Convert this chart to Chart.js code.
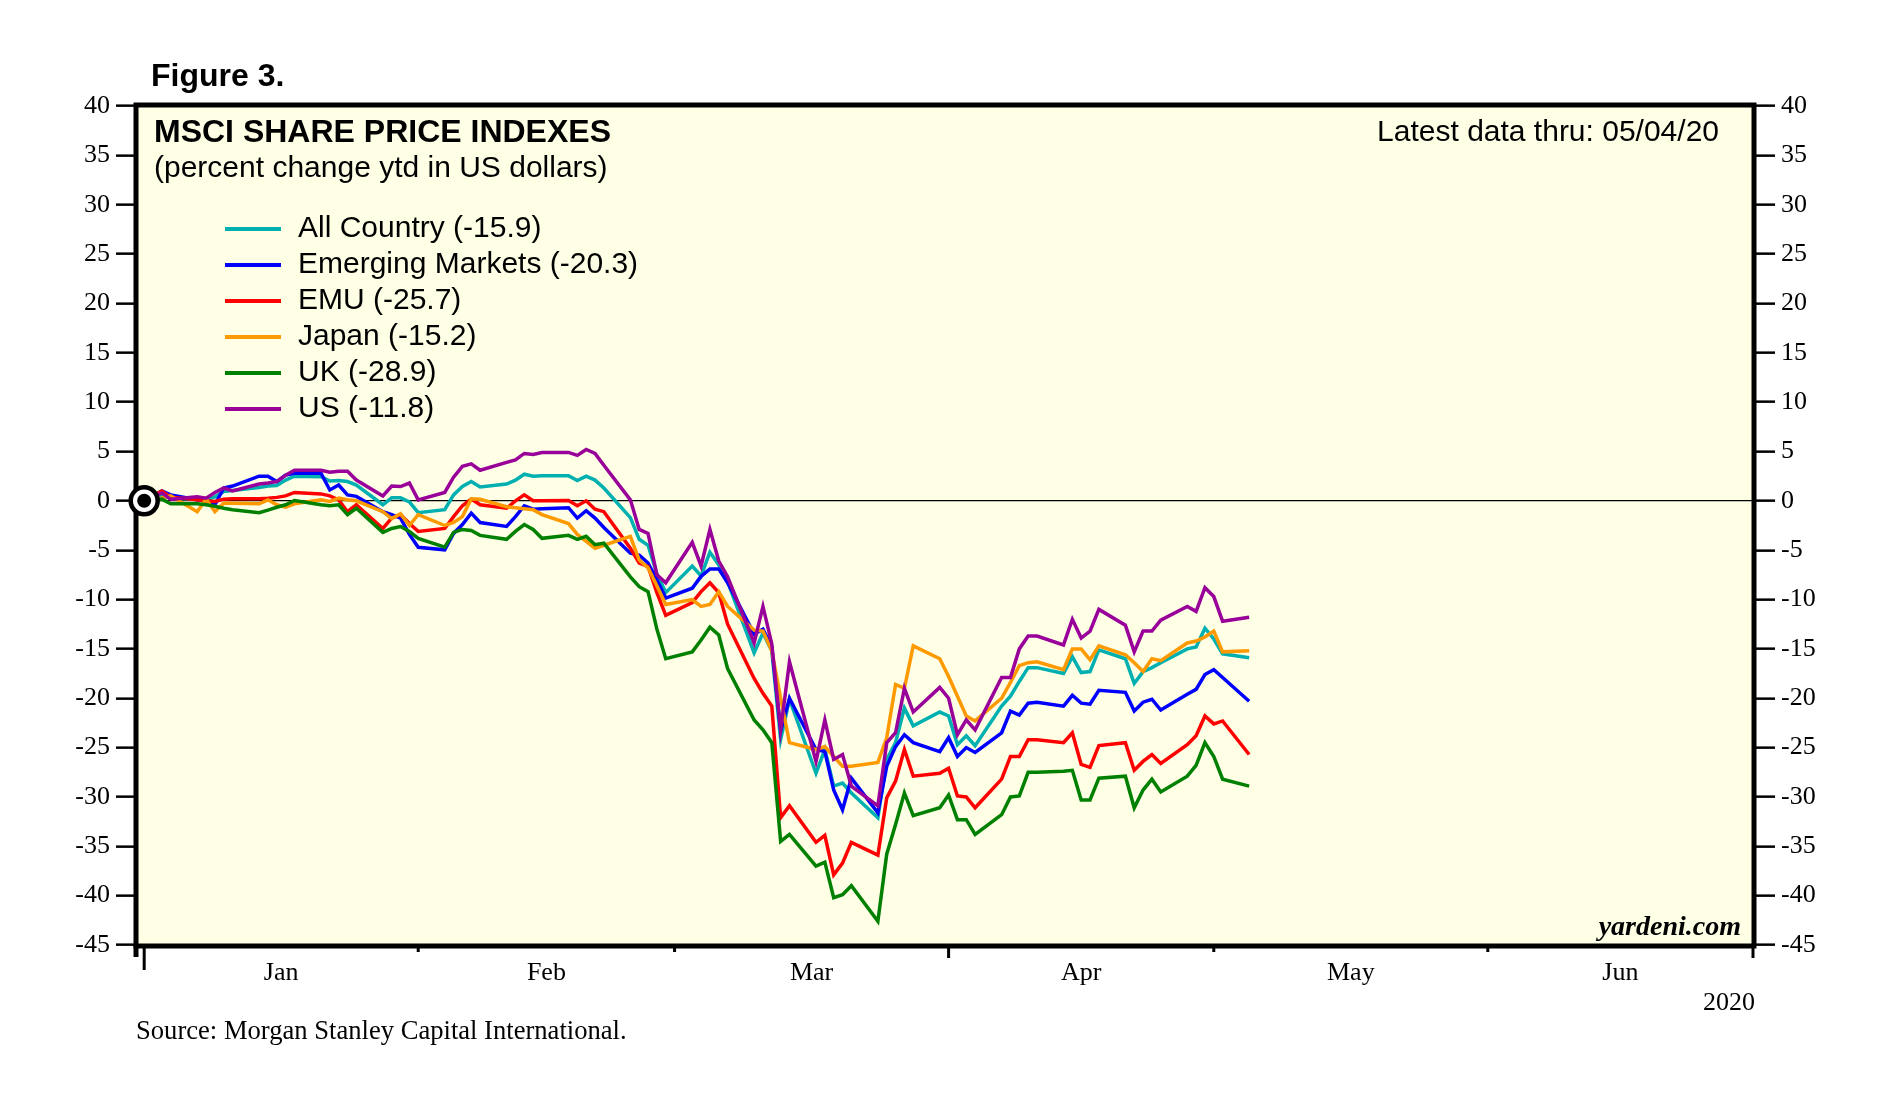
<!DOCTYPE html>
<html>
<head>
<meta charset="utf-8">
<title>MSCI Share Price Indexes</title>
<script src="https://cdn.jsdelivr.net/npm/chart.js@4.4.1/dist/chart.umd.min.js"></script>
<style>
  html, body { margin: 0; padding: 0; background: #fff; }
  canvas { display: block; }
</style>
</head>
<body>
<canvas id="chart" width="1885" height="1099"></canvas>
<script>
// trading days, first entry is the year-end base (0%)
const dates = [
  "2019-12-31",
  "2020-01-02", "2020-01-03",
  "2020-01-06", "2020-01-07", "2020-01-08", "2020-01-09", "2020-01-10",
  "2020-01-13", "2020-01-14", "2020-01-15", "2020-01-16", "2020-01-17",
  "2020-01-20", "2020-01-21", "2020-01-22", "2020-01-23", "2020-01-24",
  "2020-01-27", "2020-01-28", "2020-01-29", "2020-01-30", "2020-01-31",
  "2020-02-03", "2020-02-04", "2020-02-05", "2020-02-06", "2020-02-07",
  "2020-02-10", "2020-02-11", "2020-02-12", "2020-02-13", "2020-02-14",
  "2020-02-17", "2020-02-18", "2020-02-19", "2020-02-20", "2020-02-21",
  "2020-02-24", "2020-02-25", "2020-02-26", "2020-02-27", "2020-02-28",
  "2020-03-02", "2020-03-03", "2020-03-04", "2020-03-05", "2020-03-06",
  "2020-03-09", "2020-03-10", "2020-03-11", "2020-03-12", "2020-03-13",
  "2020-03-16", "2020-03-17", "2020-03-18", "2020-03-19", "2020-03-20",
  "2020-03-23", "2020-03-24", "2020-03-25", "2020-03-26", "2020-03-27",
  "2020-03-30", "2020-03-31",
  "2020-04-01", "2020-04-02", "2020-04-03",
  "2020-04-06", "2020-04-07", "2020-04-08", "2020-04-09", "2020-04-10",
  "2020-04-13", "2020-04-14", "2020-04-15", "2020-04-16", "2020-04-17",
  "2020-04-20", "2020-04-21", "2020-04-22", "2020-04-23", "2020-04-24",
  "2020-04-27", "2020-04-28", "2020-04-29", "2020-04-30",
  "2020-05-01", "2020-05-04",
];

const allCountry = [
  0,
  0.6, 0.25,
  0.15, 0.1, 0.4, 0.95, 1.05,
  1.35, 1.5, 1.55, 2.1, 2.5,
  2.45, 2.0, 2.05, 1.95, 1.6,
  -0.4, 0.3, 0.3, -0.1, -1.2,
  -0.9, 0.6, 1.45, 1.95, 1.4,
  1.7, 2.1, 2.7, 2.5, 2.55,
  2.55, 2.05, 2.5, 2.1, 1.3,
  -1.7, -3.9, -4.5, -7.4, -9.3,
  -6.6, -7.6, -5.2, -6.5, -8.2,
  -15.4, -13.4, -15.2, -24.2, -20.1,
  -27.6, -25.2, -28.9, -28.6, -29.6,
  -32.1, -26.2, -24.5, -21.0, -22.8,
  -21.4, -21.8,
  -24.7, -23.8, -24.8,
  -20.8, -19.8, -18.3, -16.9, -16.9,
  -17.5, -15.8, -17.4, -17.3, -15.1,
  -16.0, -18.5, -17.3, -16.9, -16.4,
  -15.0, -14.8, -12.9, -14.0,
  -15.5, -15.9,
];

const emergingMarkets = [
  0,
  1.0, 0.6,
  0.1, 0.0, -0.4, 1.3, 1.5,
  2.5, 2.5, 1.95, 2.6, 2.8,
  2.8, 1.1, 1.6, 0.6, 0.45,
  -1.1, -1.4, -1.75, -3.4, -4.7,
  -4.96, -3.3, -2.4, -1.25, -2.2,
  -2.6, -1.6, -0.5, -0.85, -0.8,
  -0.7, -1.75, -1.0, -1.75, -2.7,
  -5.3, -5.5, -6.3, -8.0, -9.85,
  -8.85, -7.65, -6.9, -6.9, -8.3,
  -13.5, -13.0, -14.8, -23.3, -20.0,
  -25.2, -25.4, -29.3, -31.3, -28.1,
  -31.6, -26.9, -24.9, -23.7, -24.5,
  -25.4, -24.0,
  -25.9, -25.0, -25.5,
  -23.5, -21.3, -21.7, -20.5, -20.4,
  -20.8, -19.7, -20.5, -20.6, -19.2,
  -19.4, -21.3, -20.4, -20.1, -21.2,
  -19.6, -19.1, -17.6, -17.1,
  -17.9, -20.3,
];

const emu = [
  0,
  1.0, 0.37,
  0.1, 0.0, -0.07, 0.17, 0.2,
  0.2, 0.25, 0.35, 0.5, 0.85,
  0.7, 0.5, 0.1, -1.1, -0.4,
  -2.8, -1.75, -1.4, -2.3, -3.1,
  -2.8, -1.6, -0.5, 0.17, -0.4,
  -0.75, 0.0, 0.6, 0.0, 0.0,
  0.03, -0.5, 0.0, -0.85, -1.1,
  -4.8, -6.3, -6.65, -9.3, -11.6,
  -10.3, -9.2, -8.3, -9.3, -12.5,
  -18.0, -19.5, -20.8, -32.1, -30.9,
  -34.6, -33.9, -37.9, -36.7, -34.6,
  -35.9, -30.1, -28.4, -25.2, -27.9,
  -27.6, -27.1,
  -29.9, -30.0, -31.1,
  -28.2, -25.9, -25.9, -24.2, -24.2,
  -24.5, -23.5, -26.7, -27.0, -24.8,
  -24.5, -27.3, -26.4, -25.7, -26.6,
  -24.7, -23.8, -21.8, -22.6,
  -22.3, -25.7,
];

const japan = [
  0,
  0.3, 0.5,
  -1.1, 0.17, -1.1, -0.24, -0.25,
  -0.3, 0.1, -0.4, -0.65, -0.3,
  0.1, -0.07, 0.27, 0.1, 0.0,
  -1.1, -1.8, -1.3, -2.5, -1.4,
  -2.5, -2.2, -1.6, 0.2, 0.15,
  -0.6, -0.7, -0.8, -0.9, -1.4,
  -2.3, -3.4, -4.1, -4.8, -4.5,
  -3.6, -6.0, -6.8, -8.6, -10.5,
  -10.0, -10.7, -10.5, -9.2, -10.7,
  -13.1, -13.2, -15.2, -20.0, -24.5,
  -25.2, -24.9, -25.9, -26.9, -26.9,
  -26.5, -24.0, -18.6, -19.0, -14.7,
  -16.0, -17.8,
  -19.8, -21.8, -22.3,
  -20.0, -18.4, -16.7, -16.4, -16.3,
  -17.1, -15.0, -15.0, -16.1, -14.7,
  -15.6, -16.4, -17.3, -16.0, -16.2,
  -14.4, -14.2, -13.8, -13.2,
  -15.3, -15.2,
];

const uk = [
  0,
  0.17, -0.3,
  -0.3, -0.4, -0.55, -0.75, -0.9,
  -1.2, -0.95, -0.65, -0.4, 0.03,
  -0.4, -0.5, -0.4, -1.4, -0.75,
  -3.2, -2.8, -2.6, -3.1, -3.8,
  -4.7, -3.2, -2.9, -3.0, -3.5,
  -3.9, -3.1, -2.4, -2.9, -3.8,
  -3.5, -3.9, -3.6, -4.45, -4.3,
  -7.7, -8.7, -9.2, -13.0, -16.0,
  -15.3, -14.1, -12.8, -13.6, -17.0,
  -22.2, -23.2, -24.5, -34.5, -33.8,
  -37.0, -36.6, -40.2, -39.9, -39.0,
  -42.6, -35.8, -32.8, -29.6, -31.9,
  -31.1, -29.8,
  -32.3, -32.3, -33.8,
  -31.8, -30.0, -29.9, -27.5, -27.5,
  -27.4, -27.3, -30.3, -30.3, -28.1,
  -27.9, -31.1, -29.3, -28.2, -29.5,
  -27.9, -26.8, -24.5, -25.9,
  -28.2, -28.9,
];

const us = [
  0,
  0.8, 0.15,
  0.4, 0.27, 0.85, 1.3, 1.0,
  1.7, 1.8, 1.95, 2.6, 3.1,
  3.1, 2.9, 3.0, 3.0, 2.1,
  0.5, 1.5, 1.45, 1.8, 0.1,
  0.85, 2.4, 3.5, 3.75, 3.1,
  3.9, 4.15, 4.8, 4.7, 4.9,
  4.9, 4.6, 5.2, 4.8, 3.6,
  0.1, -2.9, -3.3, -7.5, -8.3,
  -4.2, -6.6, -2.9, -6.1, -7.7,
  -14.4, -10.7, -14.5, -23.2, -16.3,
  -26.4, -22.2, -26.2, -25.7, -28.9,
  -30.9, -24.5, -23.5, -19.0, -21.4,
  -18.9, -20.0,
  -23.7, -22.2, -23.2,
  -17.9, -17.9, -15.0, -13.7, -13.7,
  -14.6, -12.0, -13.9, -13.2, -11.0,
  -12.6, -15.3, -13.2, -13.2, -12.1,
  -10.7, -11.2, -8.8, -9.7,
  -12.2, -11.8,
];

const seriesNames = ["All Country", "Emerging Markets", "EMU", "Japan", "UK", "US"];
const seriesValues = [allCountry, emergingMarkets, emu, japan, uk, us];
const seriesColors = ["#00b0b0", "#0000ff", "#ff0000", "#ff9900", "#008000", "#990099"];

const yTicks = [40, 35, 30, 25, 20, 15, 10, 5, 0, -5, -10, -15, -20, -25, -30, -35, -40, -45];
const monthStarts = ["2020-01-01", "2020-02-01", "2020-03-01", "2020-04-01", "2020-05-01", "2020-06-01", "2020-07-01"];
const monthLabels = ["Jan", "Feb", "Mar", "Apr", "May", "Jun"];

const DAY = 86400000;
const JAN1 = Date.UTC(2020, 0, 1);
function dayOf(s) {
  const [y, m, d] = s.split("-").map(Number);
  return (Date.UTC(y, m - 1, d) - JAN1) / DAY;
}
// a value is plotted at the close of its day
const xs = dates.map(d => dayOf(d) + 1);

const serif = "'Liberation Serif', 'Times New Roman', serif";
const sans = "'Liberation Sans', Arial, sans-serif";

function write(ctx, str, x, y, font, align) {
  ctx.font = font;
  ctx.textAlign = align || "left";
  ctx.textBaseline = "middle";
  ctx.fillStyle = "#000";
  ctx.fillText(str, x, y);
}

const decorations = {
  id: "decorations",
  beforeDraw(chart) {
    const { ctx, chartArea: a } = chart;
    ctx.save();
    ctx.fillStyle = "#ffffe6";
    ctx.fillRect(a.left, a.top, a.right - a.left, a.bottom - a.top);
    ctx.restore();
  },
  beforeDatasetsDraw(chart) {
    const { ctx, chartArea: a } = chart;
    ctx.save();
    ctx.strokeStyle = "#000";
    ctx.lineWidth = 5;
    ctx.strokeRect(a.left - 2, a.top - 1, a.right - a.left + 3, a.bottom - a.top + 2);
    // left edge runs a little past the bottom
    ctx.beginPath();
    ctx.moveTo(a.left - 2, a.bottom);
    ctx.lineTo(a.left - 2, a.bottom + 12);
    ctx.stroke();
    ctx.restore();
  },
  afterDraw(chart) {
    const { ctx, chartArea: a } = chart;
    const x = chart.scales.x;
    ctx.save();

    // month boundary ticks under the frame, longer at quarters
    ctx.strokeStyle = "#000";
    ctx.lineWidth = 3;
    monthStarts.forEach((m, i) => {
      const px = x.getPixelForValue(dayOf(m));
      const len = i % 3 === 0 ? (i === 0 ? 25 : 13) : 7;
      ctx.beginPath();
      ctx.moveTo(px, a.bottom);
      ctx.lineTo(px, a.bottom + len);
      ctx.stroke();
    });
    monthLabels.forEach((lab, i) => {
      const mid = (dayOf(monthStarts[i]) + dayOf(monthStarts[i + 1])) / 2;
      write(ctx, lab, x.getPixelForValue(mid), a.bottom + 28, "26px " + serif, "center");
    });
    write(ctx, "2020", a.right + 2, a.bottom + 58, "26px " + serif, "right");

    // titles
    write(ctx, "Figure 3.", 151, 77, "bold 32px " + sans);
    write(ctx, "MSCI SHARE PRICE INDEXES", a.left + 16, a.top + 27, "bold 32px " + sans);
    write(ctx, "(percent change ytd in US dollars)", a.left + 16, a.top + 63, "30px " + sans);
    write(ctx, "Latest data thru: 05/04/20", a.right - 34, a.top + 27, "30px " + sans, "right");
    write(ctx, "yardeni.com", a.right - 12, a.bottom - 17, "italic bold 28px " + serif, "right");
    write(ctx, "Source: Morgan Stanley Capital International.", 136, 1032, "26.6px " + serif);

    // legend
    chart.data.datasets.filter(ds => ds.legendRow !== undefined).forEach(ds => {
      const y = a.top + 123 + ds.legendRow * 36;
      ctx.strokeStyle = ds.borderColor;
      ctx.lineWidth = 4;
      ctx.beginPath();
      ctx.moveTo(a.left + 87, y);
      ctx.lineTo(a.left + 143, y);
      ctx.stroke();
      write(ctx, ds.label, a.left + 160, y, "30px " + sans);
    });
    ctx.restore();
  },
};

const lineSets = seriesNames.map((name, i) => {
  const vals = seriesValues[i];
  return {
    label: name + " (" + vals[vals.length - 1].toFixed(1) + ")",
    legendRow: i,
    data: vals.map((v, k) => ({ x: xs[k], y: v })),
    borderColor: seriesColors[i],
    backgroundColor: seriesColors[i],
    borderWidth: 3.5,
    pointRadius: 0,
    tension: 0,
    order: 6 - i,
  };
});

const base = { x: xs[0], y: allCountry[0] };
const markerSets = [
  {
    label: "base", data: [base], showLine: false, clip: false, order: -2,
    pointRadius: 7, pointBackgroundColor: "#000", pointBorderWidth: 0,
  },
  {
    label: "base ring", data: [base], showLine: false, clip: false, order: -1,
    pointRadius: 13.5, pointBackgroundColor: "#fff", pointBorderColor: "#000", pointBorderWidth: 4.5,
  },
];

const yScale = (pos, width, zeroLine) => ({
  position: pos,
  min: -45,
  max: 40,
  afterBuildTicks: s => { s.ticks = yTicks.map(v => ({ value: v })); },
  afterFit: s => { s.width = width; },
  border: { display: false },
  grid: {
    drawOnChartArea: zeroLine,
    color: c => (c.tick && c.tick.value === 0 ? "#000" : "rgba(0,0,0,0)"),
    lineWidth: 1.3,
    tickColor: "#000",
    tickWidth: 2.5,
    tickLength: 22,
  },
  ticks: { color: "#000", font: { family: serif, size: 26 }, padding: 6 },
});

new Chart(document.getElementById("chart"), {
  type: "line",
  data: { datasets: markerSets.concat(lineSets) },
  options: {
    responsive: false,
    devicePixelRatio: 1,
    animation: false,
    events: [],
    layout: { padding: { top: 106, bottom: 154, left: 0, right: 0 } },
    plugins: { legend: { display: false }, tooltip: { enabled: false } },
    scales: {
      x: { type: "linear", min: -0.7, max: 182, display: false },
      y: yScale("left", 138, true),
      y2: yScale("right", 132, false),
    },
  },
  plugins: [decorations],
});
</script>
</body>
</html>
